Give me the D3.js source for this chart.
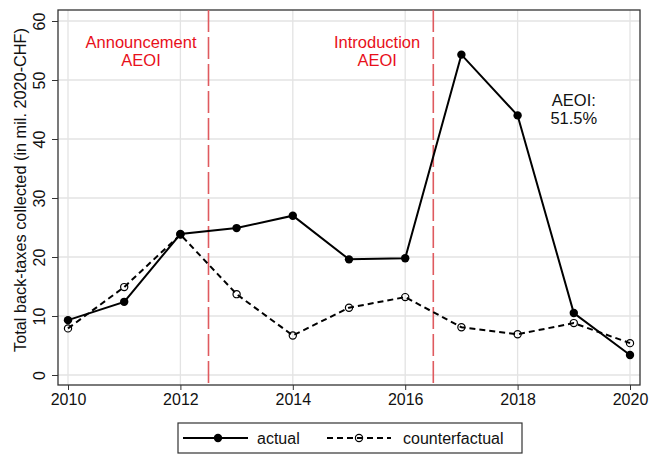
<!DOCTYPE html>
<html>
<head>
<meta charset="utf-8">
<script src="https://cdn.jsdelivr.net/npm/d3@7"></script>
<style>
  body { margin: 0; background: #fff; }
  text { font-family: Arial, "Liberation Sans", sans-serif; }
</style>
</head>
<body>
<svg id="chart"></svg>
<script>
const years = [2010, 2011, 2012, 2013, 2014, 2015, 2016, 2017, 2018, 2019, 2020]
const actual = [9.3, 12.4, 23.9, 24.9, 27.0, 19.6, 19.8, 54.3, 44.0, 10.5, 3.4]
const counterfactual = [7.9, 14.9, 23.8, 13.7, 6.7, 11.4, 13.2, 8.1, 6.9, 8.8, 5.4]
const xTicks = [2010, 2012, 2014, 2016, 2018, 2020]
const yTicks = [0, 10, 20, 30, 40, 50, 60]
const events = [
    { year: 2012.5, lines: ["Announcement", "AEOI"], labelYear: 2011.3 },
    { year: 2016.5, lines: ["Introduction", "AEOI"], labelYear: 2015.5 }
]
const note = { year: 2019.0, value: 45.6, lines: ["AEOI:", "51.5%"] }

const width = 649, height = 455
const frame = { left: 58, top: 10, right: 640, bottom: 385 }

const svg = d3.select("#chart").attr("width", width).attr("height", height)

const x = d3.scaleLinear().domain([2010, 2020]).range([68, 630])
const y = d3.scaleLinear().domain([0, 60]).range([375, 21])

// grid
svg.append("g").selectAll("line").data(xTicks).enter().append("line")
    .attr("x1", d => x(d)).attr("x2", d => x(d))
    .attr("y1", frame.top).attr("y2", frame.bottom)
    .attr("stroke", "#e3e3e3").attr("stroke-width", 1.3)
svg.append("g").selectAll("line").data(yTicks).enter().append("line")
    .attr("x1", frame.left).attr("x2", frame.right)
    .attr("y1", d => y(d)).attr("y2", d => y(d))
    .attr("stroke", "#e3e3e3").attr("stroke-width", 1.3)

// axes
const xAxis = svg.append("g")
    .attr("transform", `translate(0,${frame.bottom})`)
    .call(d3.axisBottom(x).tickValues(xTicks).tickFormat(d3.format("d")).tickSize(5).tickPadding(4))
xAxis.select(".domain").remove()
xAxis.selectAll("text").attr("font-size", 16).attr("fill", "#111")
xAxis.selectAll("line").attr("stroke", "#333")

const yAxis = svg.append("g")
    .attr("transform", `translate(${frame.left},0)`)
    .call(d3.axisLeft(y).tickValues(yTicks).tickSize(6).tickPadding(4))
yAxis.select(".domain").remove()
yAxis.selectAll("line").attr("stroke", "#333")
yAxis.selectAll("text")
    .attr("font-size", 16).attr("fill", "#111")
    .attr("text-anchor", "middle").attr("dy", null).attr("x", null)
    .attr("transform", "translate(-19,0) rotate(-90)")
    .attr("y", 0).attr("dy", "0.35em")

svg.append("text")
    .attr("transform", `translate(26,190) rotate(-90)`)
    .attr("text-anchor", "middle")
    .attr("font-size", 16.3).attr("fill", "#111")
    .text("Total back-taxes collected (in mil. 2020-CHF)")

// frame
svg.append("rect")
    .attr("x", frame.left).attr("y", frame.top)
    .attr("width", frame.right - frame.left).attr("height", frame.bottom - frame.top)
    .attr("fill", "none").attr("stroke", "#333").attr("stroke-width", 1.3)

// event lines
svg.append("g").selectAll("line").data(events).enter().append("line")
    .attr("x1", d => x(d.year)).attr("x2", d => x(d.year))
    .attr("y1", frame.top).attr("y2", frame.bottom)
    .attr("stroke", "#df5a5f").attr("stroke-width", 1.6)
    .attr("stroke-dasharray", "22,5")

// two-line labels as separate texts
events.forEach(ev => {
    ev.lines.forEach((s, i) => {
        svg.append("text")
            .attr("text-anchor", "middle").attr("font-size", 16.5).attr("fill", "#e8101a")
            .attr("x", x(ev.labelYear)).attr("y", 48 + i * 18).text(s)
    })
})

note.lines.forEach((s, i) => {
    svg.append("text").attr("text-anchor", "middle").attr("font-size", 16.5).attr("fill", "#111")
        .attr("x", x(note.year)).attr("y", y(note.value) + i * 18).text(s)
})

// series
const line = d3.line().x((d, i) => x(years[i])).y(d => y(d))

svg.append("path").datum(counterfactual)
    .attr("d", line).attr("fill", "none")
    .attr("stroke", "#000").attr("stroke-width", 2)
    .attr("stroke-dasharray", "6,4")
svg.append("path").datum(actual)
    .attr("d", line).attr("fill", "none")
    .attr("stroke", "#000").attr("stroke-width", 2)

svg.append("g").selectAll("circle").data(counterfactual).enter().append("circle")
    .attr("cx", (d, i) => x(years[i])).attr("cy", d => y(d))
    .attr("r", 3.6).attr("fill", "none").attr("stroke", "#000").attr("stroke-width", 1.2)
svg.append("g").selectAll("circle").data(actual).enter().append("circle")
    .attr("cx", (d, i) => x(years[i])).attr("cy", d => y(d))
    .attr("r", 4.2).attr("fill", "#000")

// legend
const lg = svg.append("g")
lg.append("rect").attr("x", 178).attr("y", 423).attr("width", 344).attr("height", 30)
    .attr("fill", "#fff").attr("stroke", "#333").attr("stroke-width", 1.2)
lg.append("line").attr("x1", 183).attr("x2", 248).attr("y1", 438).attr("y2", 438)
    .attr("stroke", "#000").attr("stroke-width", 2)
lg.append("circle").attr("cx", 218).attr("cy", 438).attr("r", 4.2).attr("fill", "#000")
lg.append("text").attr("x", 257).attr("y", 444).attr("font-size", 16).attr("fill", "#111").text("actual")
lg.append("line").attr("x1", 327).attr("x2", 391).attr("y1", 438).attr("y2", 438)
    .attr("stroke", "#000").attr("stroke-width", 2).attr("stroke-dasharray", "6,4")
lg.append("circle").attr("cx", 359).attr("cy", 438).attr("r", 3.6)
    .attr("fill", "none").attr("stroke", "#000").attr("stroke-width", 1.2)
lg.append("text").attr("x", 403).attr("y", 444).attr("font-size", 16).attr("fill", "#111").text("counterfactual")
</script>
</body>
</html>
